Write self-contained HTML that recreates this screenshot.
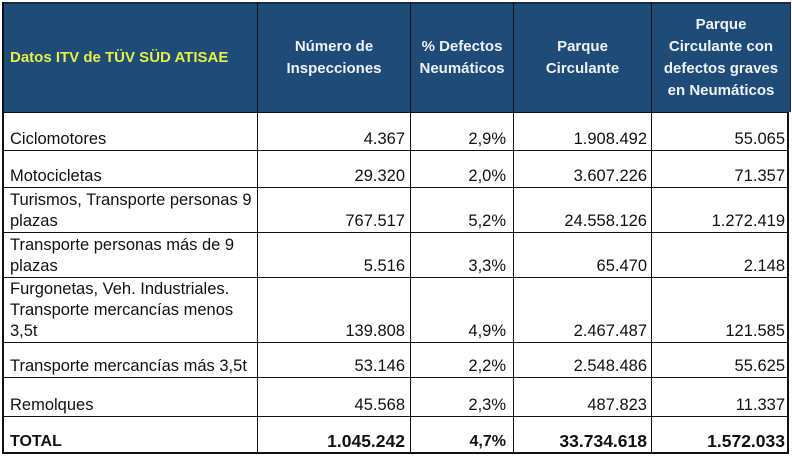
<!DOCTYPE html>
<html><head><meta charset="utf-8"><style>
html,body{margin:0;padding:0;background:#fff;}
body{width:792px;height:458px;position:relative;overflow:hidden;font-family:"Liberation Sans",Arial,sans-serif;}
.hdr{position:absolute;left:3px;top:2px;width:788px;height:110px;background:#1f4b79;}
.hl{position:absolute;left:3px;width:785px;height:1px;background:#111;}
.vl{position:absolute;top:2px;width:1px;height:452px;background:#111;}
.hc{position:absolute;top:3px;height:109px;display:flex;align-items:center;justify-content:center;text-align:center;color:#eef3f8;font-weight:bold;font-size:15px;line-height:22px;white-space:nowrap;}
.c{position:absolute;display:flex;align-items:flex-end;font-size:16.5px;line-height:21px;color:#111;white-space:nowrap;}
.l{left:10px;width:245px;}
.n{justify-content:flex-end;}
.b{font-weight:bold;font-size:17.5px;}
</style></head><body>
<div class="hdr"></div>

<div class="hc" style="left:10px;width:245px;justify-content:flex-start;text-align:left;color:#e6ef45;">Datos ITV de TÜV SÜD ATISAE</div>
<div class="hc" style="left:258px;width:152px;">Número de<br>Inspecciones</div>
<div class="hc" style="left:411px;width:102px;">% Defectos<br>Neumáticos</div>
<div class="hc" style="left:514px;width:137px;">Parque<br>Circulante</div>
<div class="hc" style="left:652px;width:138px;">Parque<br>Circulante con<br>defectos graves<br>en Neumáticos</div>

<!-- horizontal lines -->
<div class="hl" style="top:2px;height:2px;width:788px;background:#1a2c44"></div>
<div class="hl" style="top:112px"></div>
<div class="hl" style="top:150px"></div>
<div class="hl" style="top:187px"></div>
<div class="hl" style="top:232px"></div>
<div class="hl" style="top:277px"></div>
<div class="hl" style="top:342px"></div>
<div class="hl" style="top:377px"></div>
<div class="hl" style="top:416px"></div>
<div class="hl" style="top:452px;height:2px"></div>

<!-- vertical lines -->
<div class="vl" style="left:2px;width:2px"></div>
<div class="vl" style="left:257px"></div>
<div class="vl" style="left:410px"></div>
<div class="vl" style="left:513px"></div>
<div class="vl" style="left:651px"></div>
<div class="vl" style="left:787px;width:2px;top:112px;height:342px"></div>
<div class="vl" style="left:790px;top:2px;height:110px;background:#1a2c44"></div>

<!-- Row 1 -->
<div class="c l" style="top:112px;height:38px">Ciclomotores</div>
<div class="c n" style="top:112px;height:38px;left:258px;width:147px">4.367</div>
<div class="c n" style="top:112px;height:38px;left:411px;width:95px">2,9%</div>
<div class="c n" style="top:112px;height:38px;left:514px;width:133px">1.908.492</div>
<div class="c n" style="top:112px;height:38px;left:652px;width:133px">55.065</div>

<!-- Row 2 -->
<div class="c l" style="top:150px;height:37px">Motocicletas</div>
<div class="c n" style="top:150px;height:37px;left:258px;width:147px">29.320</div>
<div class="c n" style="top:150px;height:37px;left:411px;width:95px">2,0%</div>
<div class="c n" style="top:150px;height:37px;left:514px;width:133px">3.607.226</div>
<div class="c n" style="top:150px;height:37px;left:652px;width:133px">71.357</div>

<!-- Row 3 -->
<div class="c l" style="top:187px;height:45px">Turismos, Transporte personas 9<br>plazas</div>
<div class="c n" style="top:187px;height:45px;left:258px;width:147px">767.517</div>
<div class="c n" style="top:187px;height:45px;left:411px;width:95px">5,2%</div>
<div class="c n" style="top:187px;height:45px;left:514px;width:133px">24.558.126</div>
<div class="c n" style="top:187px;height:45px;left:652px;width:133px">1.272.419</div>

<!-- Row 4 -->
<div class="c l" style="top:232px;height:45px">Transporte personas más de 9<br>plazas</div>
<div class="c n" style="top:232px;height:45px;left:258px;width:147px">5.516</div>
<div class="c n" style="top:232px;height:45px;left:411px;width:95px">3,3%</div>
<div class="c n" style="top:232px;height:45px;left:514px;width:133px">65.470</div>
<div class="c n" style="top:232px;height:45px;left:652px;width:133px">2.148</div>

<!-- Row 5 -->
<div class="c l" style="top:277px;height:65px">Furgonetas, Veh. Industriales.<br>Transporte mercancías menos<br>3,5t</div>
<div class="c n" style="top:277px;height:65px;left:258px;width:147px">139.808</div>
<div class="c n" style="top:277px;height:65px;left:411px;width:95px">4,9%</div>
<div class="c n" style="top:277px;height:65px;left:514px;width:133px">2.467.487</div>
<div class="c n" style="top:277px;height:65px;left:652px;width:133px">121.585</div>

<!-- Row 6 -->
<div class="c l" style="top:342px;height:35px">Transporte mercancías más 3,5t</div>
<div class="c n" style="top:342px;height:35px;left:258px;width:147px">53.146</div>
<div class="c n" style="top:342px;height:35px;left:411px;width:95px">2,2%</div>
<div class="c n" style="top:342px;height:35px;left:514px;width:133px">2.548.486</div>
<div class="c n" style="top:342px;height:35px;left:652px;width:133px">55.625</div>

<!-- Row 7 -->
<div class="c l" style="top:377px;height:39px">Remolques</div>
<div class="c n" style="top:377px;height:39px;left:258px;width:147px">45.568</div>
<div class="c n" style="top:377px;height:39px;left:411px;width:95px">2,3%</div>
<div class="c n" style="top:377px;height:39px;left:514px;width:133px">487.823</div>
<div class="c n" style="top:377px;height:39px;left:652px;width:133px">11.337</div>

<!-- Row 8 TOTAL -->
<div class="c l" style="top:416px;height:36px;font-weight:bold;font-size:16px">TOTAL</div>
<div class="c n b" style="top:416px;height:36px;left:258px;width:147px">1.045.242</div>
<div class="c n b" style="top:416px;height:36px;left:411px;width:95px;font-size:16px">4,7%</div>
<div class="c n b" style="top:416px;height:36px;left:514px;width:133px">33.734.618</div>
<div class="c n b" style="top:416px;height:36px;left:652px;width:133px">1.572.033</div>
</body></html>
